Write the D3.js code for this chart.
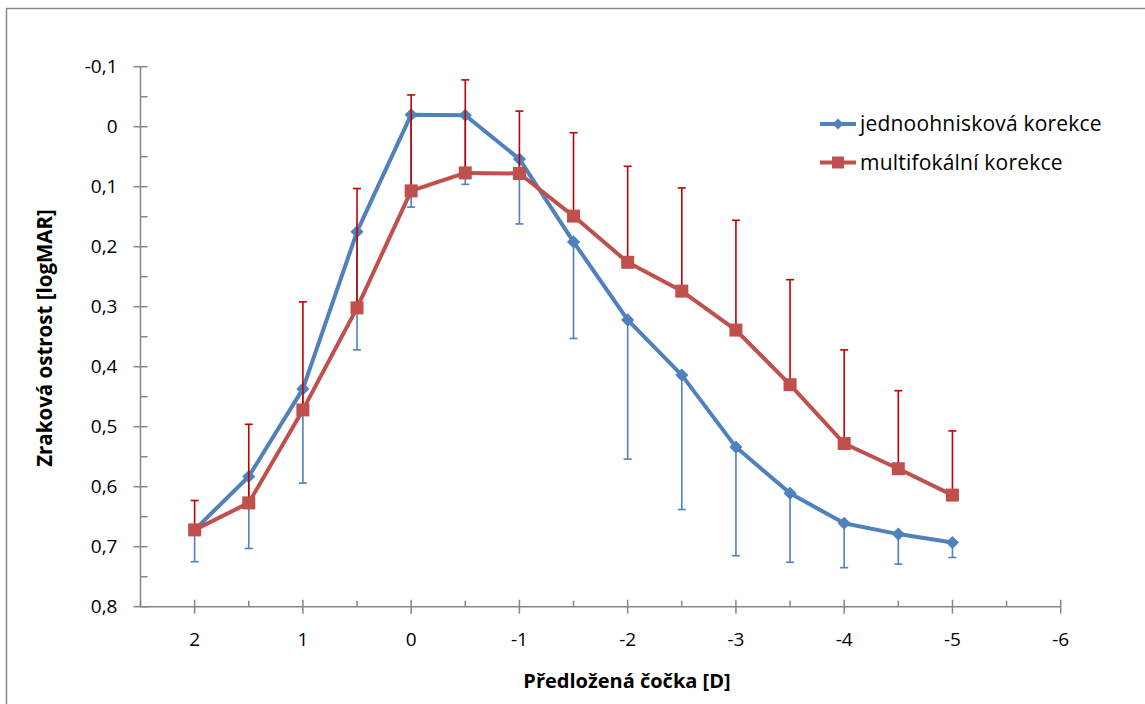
<!DOCTYPE html>
<html>
<head>
<meta charset="utf-8">
<script src="https://cdn.jsdelivr.net/npm/d3@7"></script>
<style>
  body { margin: 0; background: #fff; }
  svg { font-family: 'Open Sans', sans-serif; }
</style>
</head>
<body>
<svg id="chart" width="1145" height="704"></svg>
<script>
// lens power [D], x axis runs from plus to minus
const lensPower = [2, 1.5, 1, 0.5, 0, -0.5, -1, -1.5, -2, -2.5, -3, -3.5, -4, -4.5, -5]

// jednoohnisková korekce: mean logMAR and SD (drawn downward)
const singleMean = [0.672, 0.583, 0.437, 0.175, -0.02, -0.019, 0.054, 0.192, 0.322, 0.414, 0.534, 0.611, 0.661, 0.679, 0.693]
const singleSd = [0.053, 0.12, 0.157, 0.197, 0.154, 0.115, 0.108, 0.161, 0.232, 0.224, 0.181, 0.115, 0.074, 0.05, 0.025]

// multifokální korekce: mean logMAR and SD (drawn upward)
const multiMean = [0.672, 0.627, 0.472, 0.302, 0.107, 0.077, 0.078, 0.149, 0.226, 0.274, 0.339, 0.43, 0.528, 0.57, 0.614]
const multiSd = [0.049, 0.131, 0.18, 0.199, 0.16, 0.155, 0.104, 0.139, 0.16, 0.172, 0.183, 0.175, 0.156, 0.13, 0.107]

const xTicks = [2, 1, 0, -1, -2, -3, -4, -5, -6]
const xMinorTicks = [2.5, 1.5, 0.5, -0.5, -1.5, -2.5, -3.5, -4.5, -5.5]
const yTicks = [-0.1, 0, 0.1, 0.2, 0.3, 0.4, 0.5, 0.6, 0.7, 0.8]
const yMinorTicks = [-0.05, 0.05, 0.15, 0.25, 0.35, 0.45, 0.55, 0.65, 0.75]

const seriesNames = ['jednoohnisková korekce', 'multifokální korekce']

const blue = '#4f81bd'
const red = '#c0504d'
const redBar = '#c00000'
const axisColor = '#868686'

const svg = d3.select('#chart')

// outer chart frame
svg.append('rect')
  .attr('x', 6.5).attr('y', 8.5)
  .attr('width', 1160).attr('height', 720)
  .style('fill', 'none').style('stroke', axisColor).style('stroke-width', 1.5)

const x = d3.scaleLinear().domain([2.5, -6]).range([140.5, 1060.7])
const y = d3.scaleLinear().domain([-0.1, 0.8]).range([66.7, 606.7])

// czech decimal comma, plain hyphen for minus
const yFmt = d => (Math.abs(d) < 1e-9 ? '0' : d.toFixed(1).replace('.', ','))

// y axis
const yAxis = svg.append('g').attr('transform', `translate(${x(2.5)},0)`)
yAxis.append('line').attr('y1', y(-0.1)).attr('y2', y(0.8)).style('stroke', axisColor).style('stroke-width', 1.5)
yAxis.selectAll('.ymaj').data(yTicks).enter().append('line')
  .attr('x1', -7).attr('x2', 7).attr('y1', d => y(d)).attr('y2', d => y(d))
  .style('stroke', axisColor).style('stroke-width', 1.5)
yAxis.selectAll('.ymin').data(yMinorTicks).enter().append('line')
  .attr('x1', 0).attr('x2', 7).attr('y1', d => y(d)).attr('y2', d => y(d))
  .style('stroke', axisColor).style('stroke-width', 1.5)
yAxis.selectAll('text').data(yTicks).enter().append('text')
  .attr('x', -23).attr('y', d => y(d)).attr('dy', '0.35em')
  .attr('text-anchor', 'end').style('font-size', '19px').style('fill', '#000')
  .text(yFmt)

// x axis
const xAxis = svg.append('g').attr('transform', `translate(0,${y(0.8)})`)
xAxis.append('line').attr('x1', x(2.5)).attr('x2', x(-6)).style('stroke', axisColor).style('stroke-width', 1.5)
xAxis.selectAll('.xmaj').data(xTicks).enter().append('line')
  .attr('y1', -7).attr('y2', 7).attr('x1', d => x(d)).attr('x2', d => x(d))
  .style('stroke', axisColor).style('stroke-width', 1.5)
xAxis.selectAll('.xmin').data(xMinorTicks).enter().append('line')
  .attr('y1', -6).attr('y2', 0).attr('x1', d => x(d)).attr('x2', d => x(d))
  .style('stroke', axisColor).style('stroke-width', 1.5)
xAxis.selectAll('text').data(xTicks).enter().append('text')
  .attr('x', d => x(d)).attr('y', 33).attr('dy', '0.35em')
  .attr('text-anchor', 'middle').style('font-size', '19px').style('fill', '#000')
  .text(d => String(d))

// axis titles
svg.append('text')
  .attr('x', 627).attr('y', 688)
  .attr('text-anchor', 'middle').style('font-size', '20px').style('font-weight', 'bold')
  .text('Předložená čočka [D]')
svg.append('text')
  .attr('transform', 'translate(52,338) rotate(-90)')
  .attr('text-anchor', 'middle').style('font-size', '20.5px').style('font-weight', 'bold')
  .text('Zraková ostrost [logMAR]')

const line = d3.line().x(d => x(d[0])).y(d => y(d[1]))
const diamond = d3.symbol().type(d3.symbolDiamond2).size(110)

function drawSeries (means, sds, dir, lineColor, barColor, marker) {
  const pts = lensPower.map((p, i) => [p, means[i], sds[i]])
  const g = svg.append('g')
  g.append('path').datum(pts).attr('d', line)
    .style('fill', 'none').style('stroke', lineColor).style('stroke-width', 4)
    .style('stroke-linejoin', 'round')
  // error bars
  const bars = g.selectAll('.err').data(pts).enter().append('g')
  bars.append('line')
    .attr('x1', d => x(d[0])).attr('x2', d => x(d[0]))
    .attr('y1', d => y(d[1])).attr('y2', d => y(d[1] + dir * d[2]))
    .style('stroke', barColor).style('stroke-width', 1.6)
  bars.append('line')
    .attr('x1', d => x(d[0]) - 4).attr('x2', d => x(d[0]) + 4)
    .attr('y1', d => y(d[1] + dir * d[2])).attr('y2', d => y(d[1] + dir * d[2]))
    .style('stroke', barColor).style('stroke-width', 1.6)
  // markers
  if (marker === 'diamond') {
    g.selectAll('.mk').data(pts).enter().append('path')
      .attr('d', diamond)
      .attr('transform', d => `translate(${x(d[0])},${y(d[1])})`)
      .style('fill', lineColor)
  } else {
    g.selectAll('.mk').data(pts).enter().append('rect')
      .attr('x', d => x(d[0]) - 6.5).attr('y', d => y(d[1]) - 6.5)
      .attr('width', 13).attr('height', 13)
      .style('fill', lineColor)
  }
}

drawSeries(singleMean, singleSd, 1, blue, blue, 'diamond')
drawSeries(multiMean, multiSd, -1, red, redBar, 'square')

// legend
const legend = svg.append('g').attr('transform', 'translate(820,124)')
const legendColors = [blue, red]
seriesNames.forEach((name, i) => {
  const row = legend.append('g').attr('transform', `translate(0,${i * 38.5})`)
  row.append('line').attr('x1', 0).attr('x2', 36)
    .style('stroke', legendColors[i]).style('stroke-width', 4)
  if (i === 0) {
    row.append('path').attr('d', d3.symbol().type(d3.symbolDiamond2).size(80))
      .attr('transform', 'translate(18,0)').style('fill', blue)
  } else {
    row.append('rect').attr('x', 12).attr('y', -6).attr('width', 12).attr('height', 12).style('fill', red)
  }
  row.append('text').attr('x', 40).attr('dy', '0.35em')
    .style('font-size', '21px').style('letter-spacing', '0.2px').text(name)
})
</script>
</body>
</html>
